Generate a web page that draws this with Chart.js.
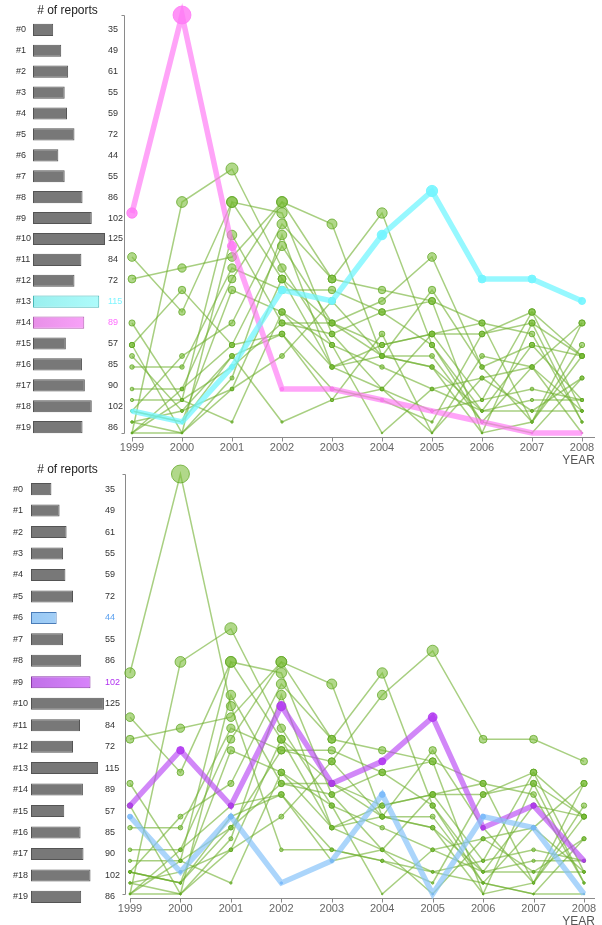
<!DOCTYPE html>
<html>
<head>
<meta charset="utf-8">
<script src="https://cdn.jsdelivr.net/npm/chart.js"></script>
<style>
  html, body { margin: 0; padding: 0; background: #fff; width: 602px; height: 925px; overflow: hidden; font-family: 'Liberation Sans', Arial, sans-serif; }
  canvas { position: absolute; }
  .listTitle { position: absolute; left: 0; width: 135px; text-align: center; font: 12px/14px 'Liberation Sans', Arial, sans-serif; color: #222; }
</style>
</head>
<body>
<canvas id="barsTop" width="135" height="443" style="left:0;top:0"></canvas>
<canvas id="linesTop" width="602" height="470" style="left:0;top:0"></canvas>
<canvas id="barsBottom" width="135" height="454" style="left:0;top:459px"></canvas>
<canvas id="linesBottom" width="602" height="470" style="left:0;top:461px"></canvas>
<div class="listTitle" style="top:3px"># of reports</div>
<div class="listTitle" style="top:462px"># of reports</div>
<script>
// ---- data ----
const years = [1999, 2000, 2001, 2002, 2003, 2004, 2005, 2006, 2007, 2008];
const seriesNames = ['#0','#1','#2','#3','#4','#5','#6','#7','#8','#9',
                     '#10','#11','#12','#13','#14','#15','#16','#17','#18','#19'];
const reportCounts = [35, 49, 61, 55, 59, 72, 44, 55, 86, 102, 125, 84, 72, 115, 89, 57, 85, 90, 102, 86];

// reports per year, one array per series
const s0  = [0, 3, 1, 11, 8, 0, 4, 2, 3, 3];
const s1  = [2, 1, 7, 9, 3, 4, 2, 3, 11, 7];
const s2  = [1, 2, 4, 7, 12, 7, 13, 6, 1, 8];
const s3  = [0, 4, 8, 9, 4, 3, 1, 9, 10, 7];
const s4  = [0, 0, 5, 18, 6, 7, 6, 2, 8, 7];
const s5  = [1, 0, 18, 10, 9, 4, 9, 10, 1, 10];
const s6  = [7, 2, 7, 1, 3, 9, 0, 7, 6, 0];
const s7  = [3, 3, 6, 10, 10, 7, 7, 1, 6, 2];
const s8  = [2, 7, 10, 19, 14, 20, 8, 1, 0, 5];
const s9  = [8, 13, 8, 17, 10, 12, 16, 6, 8, 3];
const s10 = [14, 15, 16, 21, 14, 13, 12, 10, 9, 1];
const s11 = [6, 6, 15, 13, 13, 11, 12, 0, 1, 7];
const s12 = [2, 1, 13, 11, 6, 8, 9, 9, 11, 2];
const s13 = [2, 1, 6, 13, 12, 18, 22, 14, 14, 12];
const s14 = [20, 38, 17, 4, 4, 3, 2, 1, 0, 0];
const s15 = [8, 0, 4, 14, 6, 4, 0, 5, 6, 10];
const s16 = [10, 3, 21, 14, 10, 8, 9, 3, 4, 3];
const s17 = [0, 21, 24, 15, 8, 6, 4, 5, 2, 5];
const s18 = [16, 11, 21, 20, 9, 11, 8, 2, 2, 2];
const s19 = [4, 4, 14, 21, 19, 7, 6, 0, 10, 1];
const series = [s0, s1, s2, s3, s4, s5, s6, s7, s8, s9, s10, s11, s12, s13, s14, s15, s16, s17, s18, s19];
const yMax = 38;

const FONT = "'Liberation Sans', Arial, sans-serif";
Chart.defaults.font.family = FONT;
Chart.defaults.animation = false;

// ---- highlight colours per panel ----
const topHighlight = {
  13: { line: 'rgba(115,245,255,0.75)', fill: 'rgba(115,245,255,0.9)', text: '#7ff5ff', bar: ['#9aefee', '#b0fdfd'], edge: '#48b8b8' },
  14: { line: 'rgba(255,115,245,0.65)', fill: 'rgba(255,120,245,0.8)', text: '#ff6cff', bar: ['#e890e8', '#ffaaff'], edge: '#b060b0' }
};
const bottomHighlight = {
  6: { line: 'rgba(135,195,250,0.7)', fill: 'rgba(120,185,250,0.85)', text: '#5aa0f0', bar: ['#98c8f4', '#b8dcfc'], edge: '#4a7cb8' },
  9: { line: 'rgba(185,70,245,0.65)', fill: 'rgba(175,50,240,0.8)', text: '#b030f0', bar: ['#c070e8', '#dd88ff'], edge: '#8a3aa8' }
};

const radiusFor = v => v > 0 ? 1 + 0.21 * v : 0.8;

// ---- bar list on the left ----
const valueLabels = {
  id: 'valueLabels',
  afterDraw(chart, args, opts) {
    const { ctx, scales: { y } } = chart;
    ctx.save();
    ctx.font = "9px " + FONT;
    ctx.textBaseline = 'middle';
    ctx.textAlign = 'left';
    reportCounts.forEach((n, i) => {
      const h = opts.highlight[i];
      ctx.fillStyle = h ? h.text : '#333';
      ctx.fillText(String(n), chart.chartArea.left + opts.offset, y.getPixelForValue(i));
    });
    ctx.restore();
  }
};

function makeBars(id, p) {
  new Chart(document.getElementById(id), {
    type: 'bar',
    data: {
      labels: seriesNames,
      datasets: [{
        data: reportCounts,
        backgroundColor: c => {
          const h = p.highlight[c.dataIndex];
          if (!h || !c.chart.chartArea) return '#787878';
          const g = c.chart.ctx.createLinearGradient(c.chart.chartArea.left, 0, c.chart.chartArea.left + 75, 0);
          g.addColorStop(0, h.bar[0]); g.addColorStop(1, h.bar[1]);
          return g;
        },
        borderColor: c => p.highlight[c.dataIndex] ? p.highlight[c.dataIndex].edge : '#545454',
        borderWidth: 1,
        borderSkipped: false,
        categoryPercentage: 1,
        barPercentage: p.barPct
      }]
    },
    options: {
      indexAxis: 'y',
      responsive: false,
      devicePixelRatio: 1,
      layout: { padding: { left: p.padLeft, right: p.padRight, top: 19.4, bottom: 0 } },
      plugins: {
        legend: { display: false },
        tooltip: { enabled: false },
        valueLabels: { highlight: p.highlight, offset: p.valueOffset }
      },
      scales: {
        x: { display: false, min: 0, max: p.xMax },
        y: {
          grid: { display: false }, border: { display: false },
          ticks: { color: '#333', font: { size: 9 }, crossAlign: 'far', padding: 0, autoSkip: false },
          afterFit: s => { s.width = p.axisWidth; }
        }
      }
    },
    plugins: [valueLabels]
  });
}

// ---- line chart on the right ----
const axisLines = {
  id: 'axisLines',
  beforeDatasetsDraw(chart) {
    const { ctx, chartArea, scales: { x, y } } = chart;
    ctx.save();
    ctx.strokeStyle = '#8a8a8a';
    ctx.lineWidth = 1;
    const bx = Math.round(chartArea.left) + 0.5;
    const yt = Math.round(y.getPixelForValue(yMax)) + 0.5, yb = Math.round(y.getPixelForValue(0)) + 0.5;
    ctx.beginPath();
    ctx.moveTo(bx - 3, yt); ctx.lineTo(bx, yt); ctx.lineTo(bx, yb); ctx.lineTo(bx - 3, yb);
    const by = Math.round(chartArea.bottom) + 0.5;
    ctx.moveTo(x.getPixelForValue(years[0]), by); ctx.lineTo(chartArea.right, by);
    years.forEach(yr => {
      const px = Math.round(x.getPixelForValue(yr)) + 0.5;
      ctx.moveTo(px, by); ctx.lineTo(px, by + 4);
    });
    ctx.stroke();
    ctx.restore();
  }
};

function makeLines(id, p) {
  const left = p.left, right = 595;
  const k = (p.x2008 - p.x1999) / 9;
  const xMin = years[0] - (p.x1999 - left) / k;
  const xMax = years[9] + (right - p.x2008) / k;
  const step = (p.y0 - p.yTop) / yMax;
  const yMin = -(437 - p.y0) / step;

  const datasets = series.map((vals, i) => {
    const h = p.highlight[i];
    return {
      label: seriesNames[i],
      data: years.map((yr, j) => ({ x: yr, y: vals[j] })),
      borderColor: h ? h.line : 'rgba(110,175,45,0.6)',
      borderWidth: h ? 5.5 : 1.5,
      pointBackgroundColor: h ? h.fill : 'rgba(125,190,60,0.6)',
      pointBorderColor: h ? h.fill : 'rgba(95,165,35,0.75)',
      pointBorderWidth: 1,
      pointRadius: c => radiusFor(c.raw.y),
      tension: 0,
      clip: false,
      order: h ? 0 : 1
    };
  });

  new Chart(document.getElementById(id), {
    type: 'line',
    data: { datasets },
    options: {
      responsive: false,
      devicePixelRatio: 1,
      layout: { padding: { left: left, right: 602 - right, top: p.yTop, bottom: 0 } },
      plugins: { legend: { display: false }, tooltip: { enabled: false } },
      scales: {
        x: {
          type: 'linear', min: xMin, max: xMax,
          grid: { display: false, drawTicks: true, tickLength: 4 },
          border: { display: false },
          afterBuildTicks: s => { s.ticks = years.map(v => ({ value: v })); },
          ticks: { color: '#666', font: { size: 11 }, padding: 0, maxRotation: 0, autoSkip: false, callback: v => String(v) },
          title: { display: true, text: 'YEAR', align: 'end', color: '#555', font: { size: 12 }, padding: { top: 0, bottom: 2 } },
          afterFit: s => { s.height = 470 - 437; }
        },
        y: { display: false, min: yMin, max: yMax }
      }
    },
    plugins: [axisLines]
  });
}

makeBars('barsTop', { highlight: topHighlight, padLeft: 16, padRight: 16, axisWidth: 17, xMax: 149.3, barPct: 0.58, valueOffset: 75 });
makeBars('barsBottom', { highlight: bottomHighlight, padLeft: 13, padRight: 13, axisWidth: 18, xMax: 156, barPct: 0.56, valueOffset: 74 });
makeLines('linesTop', { highlight: topHighlight, left: 124, x1999: 132, x2008: 582, yTop: 15, y0: 433 });
makeLines('linesBottom', { highlight: bottomHighlight, left: 125, x1999: 130, x2008: 584, yTop: 13, y0: 433 });
</script>
</body>
</html>
